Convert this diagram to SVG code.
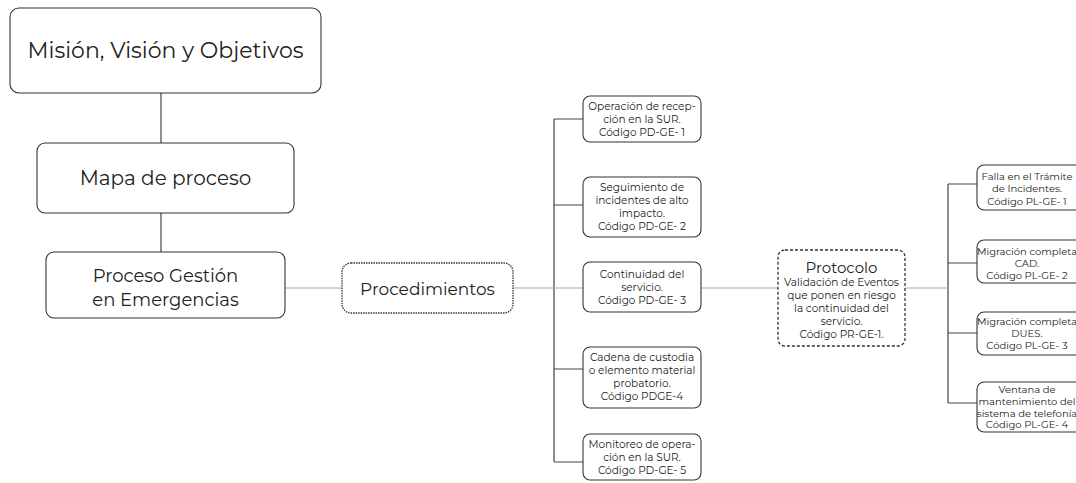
<svg xmlns="http://www.w3.org/2000/svg" width="1076" height="483" viewBox="0 0 1076 483">
<style>
.box{fill:#fff;stroke:#333;stroke-width:1.1}
.t{font-family:"Montserrat","Noto Sans","DejaVu Sans",sans-serif;fill:#222;text-anchor:middle}
.s{font-size:10.5px}
.r{font-size:10px}
.dk{stroke:#444;stroke-width:1.2;fill:none}
.lt{stroke:#aaa;stroke-width:1.2;fill:none}
</style>
<rect width="1076" height="483" fill="#fff"/>
<g id="connectors">
<path class="dk" d="M161 93V143M161 213V252"/>
<path class="dk" d="M554 119V462M554 119H583M554 205H583M554 369H583M554 462H583"/>
<path class="dk" d="M948 184V403M948 184H977M948 263H977M948 333H977M948 403H977"/>
<path class="lt" d="M285 288H342M513 288H583M701 288H778M905 288H948"/>
</g>
<g id="mision">
<rect class="box" x="10" y="8" width="311" height="85" rx="9"/>
<text class="t" x="165.5" y="58" font-size="22">Misión, Visión y Objetivos</text>
</g>
<g id="mapa">
<rect class="box" x="37" y="143" width="257" height="70" rx="8"/>
<text class="t" x="165.5" y="185" font-size="20">Mapa de proceso</text>
</g>
<g id="proceso">
<rect class="box" x="46" y="252" width="239" height="66" rx="8"/>
<text class="t" x="165.5" y="282" font-size="18">Proceso Gestión</text>
<text class="t" x="165.5" y="306" font-size="18">en Emergencias</text>
</g>
<g id="procedimientos">
<rect x="342" y="263" width="171" height="50" rx="9" fill="#fff" stroke="#333" stroke-width="1.3" stroke-dasharray="1.5 1"/>
<text class="t" x="427.5" y="295" font-size="17">Procedimientos</text>
</g>
<g id="pd1">
<rect class="box" x="583" y="96" width="118" height="46" rx="7"/>
<text class="t s" x="642" y="110">Operación de recep-</text>
<text class="t s" x="642" y="123">ción en la SUR.</text>
<text class="t s" x="642" y="136">Código PD-GE- 1</text>
</g>
<g id="pd2">
<rect class="box" x="583" y="177" width="118" height="60" rx="7"/>
<text class="t s" x="642" y="191">Seguimiento de</text>
<text class="t s" x="642" y="204">incidentes de alto</text>
<text class="t s" x="642" y="217">impacto.</text>
<text class="t s" x="642" y="230">Código PD-GE- 2</text>
</g>
<g id="pd3">
<rect class="box" x="583" y="262" width="118" height="50" rx="7"/>
<text class="t s" x="642" y="278">Continuidad del</text>
<text class="t s" x="642" y="291">servicio.</text>
<text class="t s" x="642" y="304">Código PD-GE- 3</text>
</g>
<g id="pd4">
<rect class="box" x="583" y="347" width="118" height="61" rx="7"/>
<text class="t s" x="642" y="361">Cadena de custodia</text>
<text class="t s" x="642" y="374">o elemento material</text>
<text class="t s" x="642" y="387">probatorio.</text>
<text class="t s" x="642" y="400">Código PDGE-4</text>
</g>
<g id="pd5">
<rect class="box" x="583" y="434" width="118" height="46" rx="7"/>
<text class="t s" x="642" y="448">Monitoreo de opera-</text>
<text class="t s" x="642" y="461">ción en la SUR.</text>
<text class="t s" x="642" y="474">Código PD-GE- 5</text>
</g>
<g id="protocolo">
<rect x="778" y="250" width="127" height="96" rx="7" fill="#fff" stroke="#333" stroke-width="1.3" stroke-dasharray="3 2"/>
<text class="t" x="841.5" y="273" font-size="15">Protocolo</text>
<text class="t s" x="841.5" y="286">Validación de Eventos</text>
<text class="t s" x="841.5" y="299">que ponen en riesgo</text>
<text class="t s" x="841.5" y="312">la continuidad del</text>
<text class="t s" x="841.5" y="325">servicio.</text>
<text class="t s" x="841.5" y="338">Código PR-GE-1.</text>
</g>
<g id="pl1">
<rect class="box" x="977" y="165" width="110" height="45" rx="7"/>
<text class="t r" x="1027" y="180">Falla en el Trámite</text>
<text class="t r" x="1027" y="192">de Incidentes.</text>
<text class="t r" x="1027" y="205">Código PL-GE- 1</text>
</g>
<g id="pl2">
<rect class="box" x="977" y="240" width="110" height="43" rx="7"/>
<text class="t r" x="1027" y="255">Migración completa</text>
<text class="t r" x="1027" y="267">CAD.</text>
<text class="t r" x="1027" y="279">Código PL-GE- 2</text>
</g>
<g id="pl3">
<rect class="box" x="977" y="312" width="110" height="43" rx="7"/>
<text class="t r" x="1027" y="325">Migración completa</text>
<text class="t r" x="1027" y="337">DUES.</text>
<text class="t r" x="1027" y="349">Código PL-GE- 3</text>
</g>
<g id="pl4">
<rect class="box" x="977" y="382" width="110" height="50" rx="7"/>
<text class="t r" x="1027" y="393">Ventana de</text>
<text class="t r" x="1027" y="405">mantenimiento del</text>
<text class="t r" x="1027" y="417">sistema de telefonía</text>
<text class="t r" x="1027" y="428">Código PL-GE- 4</text>
</g>
</svg>
